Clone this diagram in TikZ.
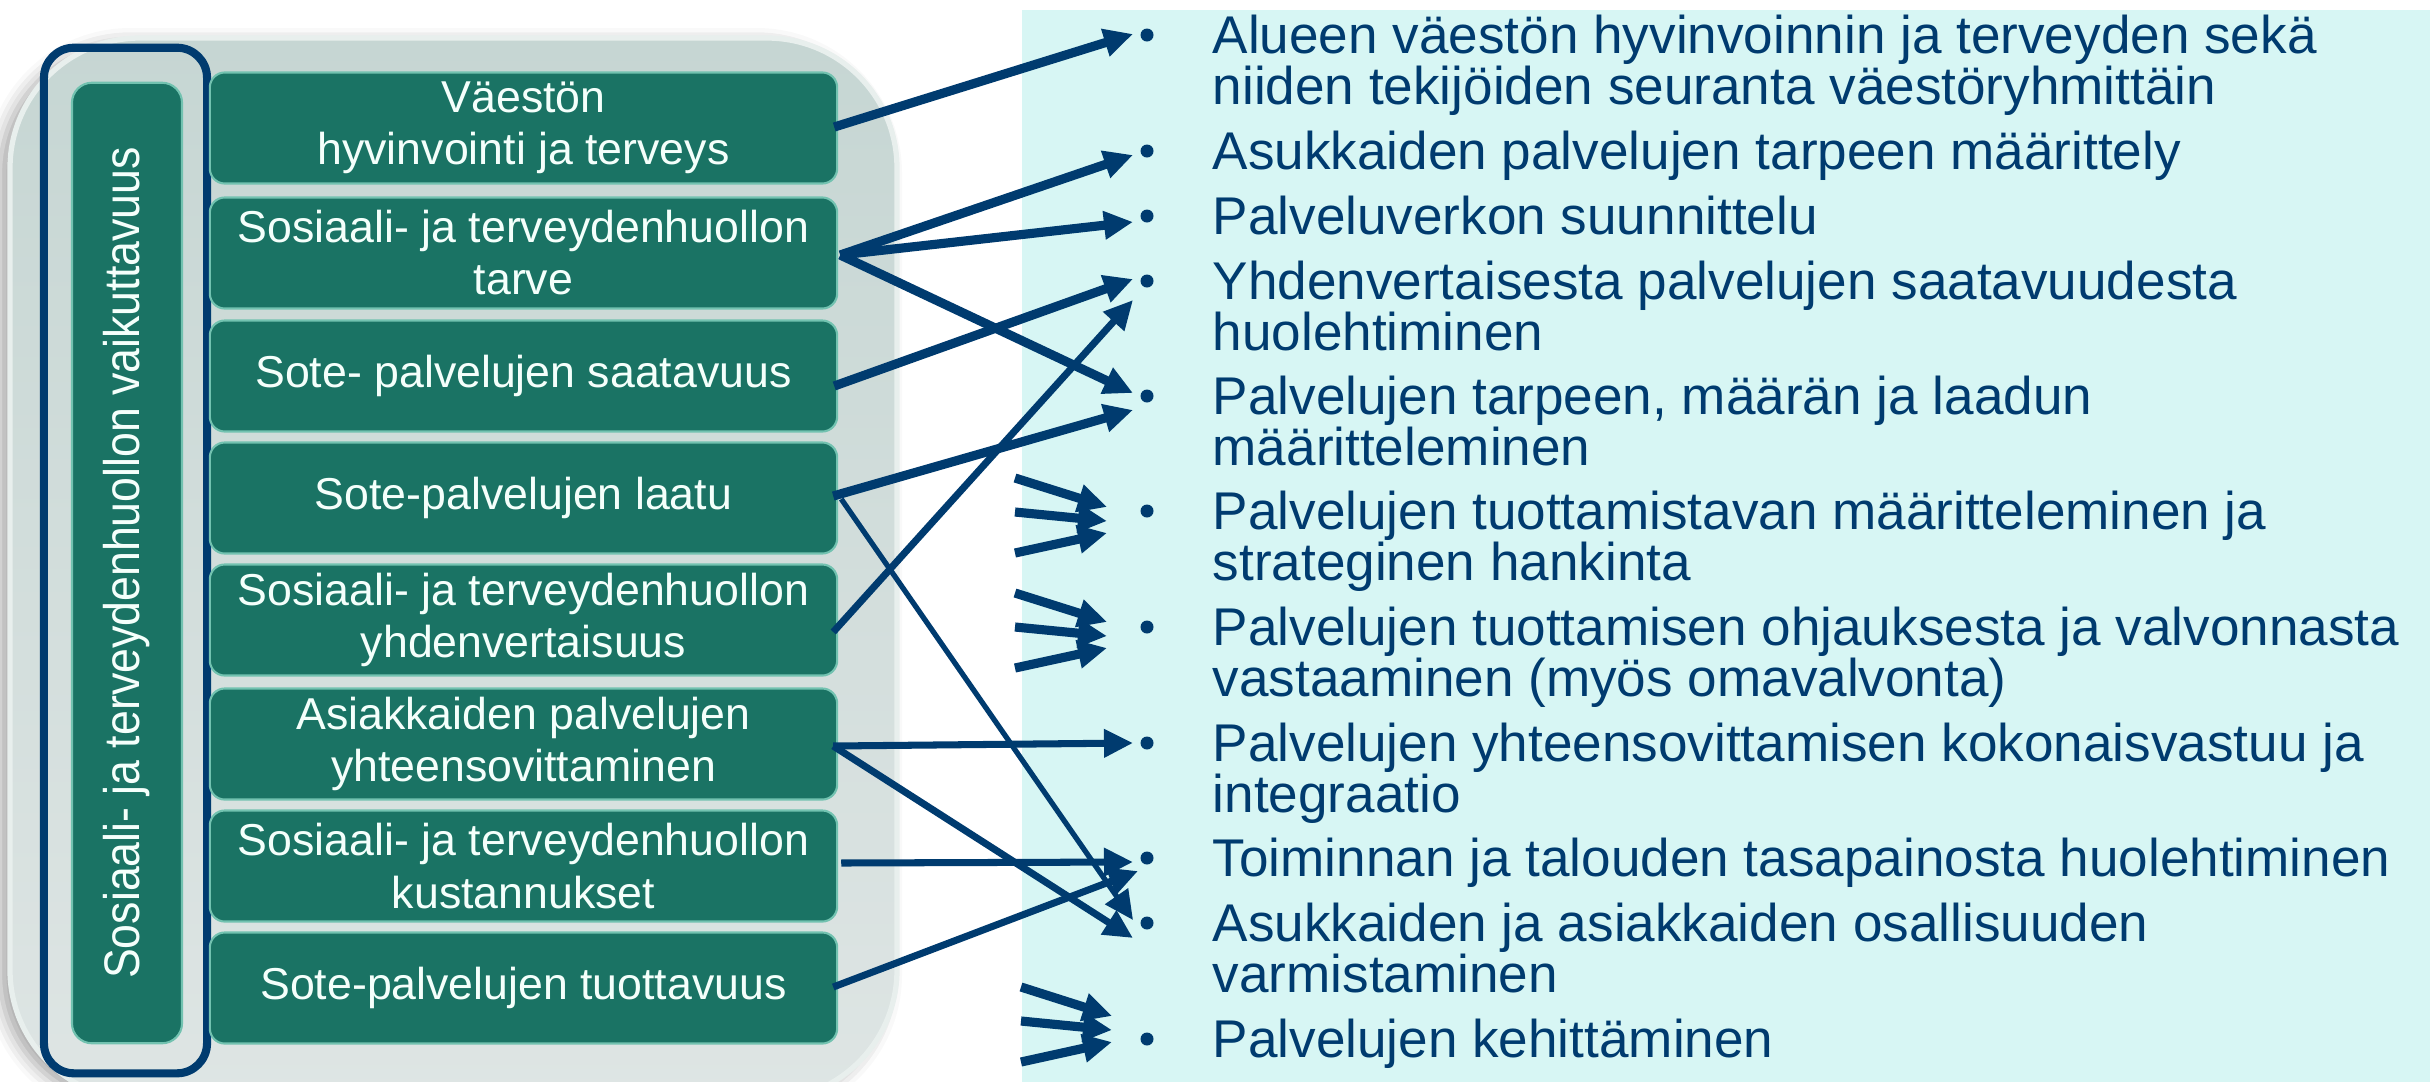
\documentclass[tikz,border=0pt]{standalone}
\usepackage{fontspec}
\setmainfont{Liberation Sans}
\usetikzlibrary{arrows.meta, calc, positioning, shadows.blur}
\definecolor{sotenavy}{HTML}{003B6F}
\definecolor{sotegreen}{HTML}{1A7364}
\definecolor{soteedge}{HTML}{72C2B0}
\definecolor{sotegrey}{HTML}{C6D6D3}
\definecolor{sotegreylight}{HTML}{DEE5E4}
\definecolor{sotecyan}{HTML}{D7F6F4}
\definecolor{sotewhite}{HTML}{F4FFFB}
\tikzset{
    box/.style={fill=sotegreen, draw=soteedge, line width=0.6pt, rounded corners=0.15cm, minimum width=6.27cm, minimum height=1.11cm, inner sep=0cm, align=center, text=sotewhite, font=\fontsize{12.7}{14.8}\selectfont},
    bar/.style={fill=sotegreen, draw=soteedge, line width=0.6pt, rounded corners=0.2cm, minimum width=9.6cm, minimum height=1.1cm, inner sep=0cm, text=sotewhite, font=\fontsize{12.7}{14.8}\selectfont},
    kehys/.style={draw=sotenavy, line width=2.3pt, rounded corners=0.3cm, minimum width=1.63cm, minimum height=10.25cm, inner sep=0cm},
    item/.style={anchor=north west, inner sep=0cm, align=left, text=sotenavy, font=\fontsize{15.1}{14.5}\selectfont},
    bullet/.style={circle, fill=sotenavy, inner sep=0cm, minimum size=0.13cm},
    nuoli/.style={draw=sotenavy, line width=2.6pt, -{Triangle[length=0.29cm, width=0.27cm]}},
    ohut/.style={nuoli, line width=2pt},
}
\newcommand{\palvelu}[3]{
    \node[box] (#1) at (523.5, #2) {#3};
}
\newcommand{\tehtava}[3]{
    \node[bullet] (#1-b) at (1147, #2) {};
    \node[item] (#1-t) at (1212, #2-31.2) {\rule{0pt}{14pt}#3};
}
\newcommand{\nippu}[4]{
    \coordinate (#1-1) at ($(#1-b)+(#2,#4-33)$);
    \coordinate (#1-2) at ($(#1-b)+(#2,#4+1)$);
    \coordinate (#1-3) at ($(#1-b)+(#2,#4+42)$);
    \draw[nuoli] (#1-1) -- ($(#1-b)+(#3,#4-4)$);
    \draw[nuoli] (#1-2) -- ($(#1-b)+(#3,#4+10)$);
    \draw[nuoli] (#1-3) -- ($(#1-b)+(#3,#4+22)$);
}

\begin{document}
\begin{tikzpicture}[x=0.01cm, y=-0.01cm]
    \useasboundingbox (0, 0) rectangle (2430, 1081);
    \fill[sotecyan] (1022, 10) rectangle (2440, 1090);
    \path[top color=sotegrey, bottom color=sotegreylight, draw=white!60!sotegrey, line width=1.5pt, rounded corners=1.3cm,
        blur shadow={shadow xshift=-0.1cm, shadow yshift=-0.05cm, shadow opacity=35, shadow blur radius=0.15cm}]
        (10, 38) rectangle (897, 1100);
    \node[kehys] (kehys) at (125.5, 560.5) {};
    \node[bar, rotate=90] (vaikuttavuus) at (127, 563) {\scalebox{1}[1.12]{Sosiaali- ja terveydenhuollon vaikuttavuus}};
    \palvelu{v1}{128}{Väestön\\hyvinvointi ja terveys}
    \palvelu{v2}{253}{Sosiaali- ja terveydenhuollon\\tarve}
    \palvelu{v3}{376}{Sote- palvelujen saatavuus}
    \palvelu{v4}{498}{Sote-palvelujen laatu}
    \palvelu{v5}{620}{Sosiaali- ja terveydenhuollon\\yhdenvertaisuus}
    \palvelu{v6}{744}{Asiakkaiden palvelujen\\yhteensovittaminen}
    \palvelu{v7}{866}{Sosiaali- ja terveydenhuollon\\kustannukset}
    \palvelu{v8}{988}{Sote-palvelujen tuottavuus}
    \tehtava{k1}{35}{Alueen väestön hyvinvoinnin ja terveyden sekä\\niiden tekijöiden seuranta väestöryhmittäin}
    \tehtava{k2}{151}{Asukkaiden palvelujen tarpeen määrittely}
    \tehtava{k3}{216}{Palveluverkon suunnittelu}
    \tehtava{k4}{281}{Yhdenvertaisesta palvelujen saatavuudesta\\huolehtiminen}
    \tehtava{k5}{396}{Palvelujen tarpeen, määrän ja laadun\\määritteleminen}
    \tehtava{k6}{511}{Palvelujen tuottamistavan määritteleminen ja\\strateginen hankinta}
    \tehtava{k7}{627}{Palvelujen tuottamisen ohjauksesta ja valvonnasta\\vastaaminen (myös omavalvonta)}
    \tehtava{k8}{743}{Palvelujen yhteensovittamisen kokonaisvastuu ja\\integraatio}
    \tehtava{k9}{858}{Toiminnan ja talouden tasapainosta huolehtiminen}
    \tehtava{k10}{923}{Asukkaiden ja asiakkaiden osallisuuden\\varmistaminen}
    \tehtava{k11}{1039}{Palvelujen kehittäminen}
    \draw[nuoli] ($(v1.east)+(-4,-1)$) -- ($(k1-b)+(-14,-1)$);
    \draw[nuoli] ($(v2.east)+(2,2)$) -- ($(k2-b)+(-14,4)$);
    \draw[nuoli] ($(v2.east)+(2,2)$) -- ($(k3-b)+(-14,6)$);
    \draw[nuoli] ($(v2.east)+(2,2)$) -- ($(k5-b)+(-14,-3)$);
    \draw[nuoli] ($(v3.east)+(-4,10)$) -- ($(k4-b)+(-14,-2)$);
    \draw[nuoli] ($(v4.east)+(-5,-2)$) -- ($(k5-b)+(-14,14)$);
    \draw[ohut] ($(v5.east)+(-5,12)$) -- ($(k4-b)+(-14,19)$);
    \draw[ohut, line width=1.5pt] ($(v4.east)+(3,1)$) -- ($(k10-b)+(-14,-3)$);
    \draw[ohut] ($(v6.east)+(-5,2)$) -- ($(k8-b)+(-14,0)$);
    \draw[ohut] ($(v6.east)+(-5,2)$) -- ($(k10-b)+(-14,15)$);
    \draw[ohut] ($(v7.east)+(3,-3)$) -- ($(k9-b)+(-14,4)$);
    \draw[ohut] ($(v8.east)+(-5,-1)$) -- ($(k9-b)+(-9,13)$);
    \nippu{k6}{-132}{-40}{0}
    \nippu{k7}{-132}{-40}{-1}
    \nippu{k11}{-126}{-35}{-19}
\end{tikzpicture}
\end{document}
